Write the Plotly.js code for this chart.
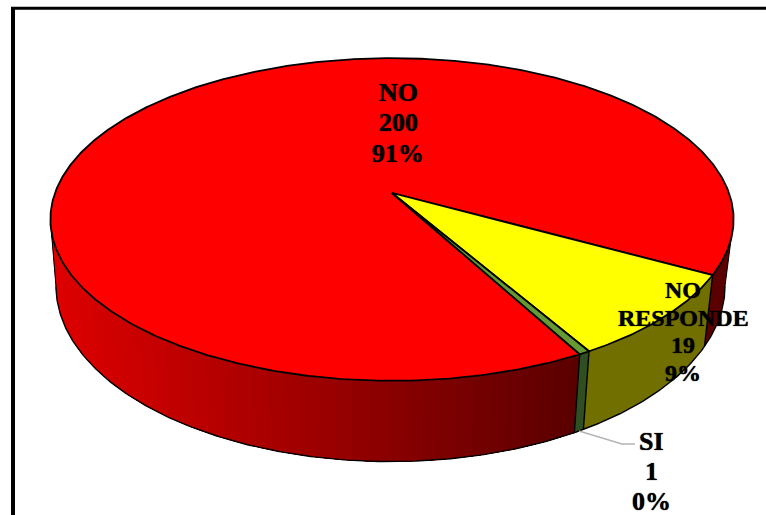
<!DOCTYPE html>
<html>
<head>
<meta charset="utf-8">
<script src="https://cdn.plot.ly/plotly-3.0.1.min.js"></script>
<style>html,body{margin:0;padding:0;background:#fff}#chart{width:766px;height:515px}</style>
</head>
<body>
<div id="chart"></div>
<script>
// Survey answers
const categories = ['NO', 'NO RESPONDE', 'SI'];
const values = [200, 19, 1];
const topColors = ['#ff0000', '#ffff00', '#669933'];
const wallColors = [null, '#706f00', '#2f4f22'];

// Where each slice's text block is centred, first line first
const labelX = [398, 683, 651];
const labelY = [92, 290, 441];
const labelSize = [26, 24, 26];
const labelStep = [30.5, 27.7, 30];
const leaderX = [579, 622, 635];
const leaderY = [431, 444, 444];

// Disc projection: top face and bottom face of the cylinder, seen in perspective
const persp = 0.164;
const topFace = {cx: 392, cy: 193, a: 337, b: 157};
const baseFace = {cx: 390.5, cy: 257, a: 330, b: 171};
const lastEndDeg = 28.8;          // clockwise end of the first slice

const project = (f, deg) => {
  const t = deg * Math.PI / 180, u = Math.cos(t), v = Math.sin(t), w = 1 - persp * v;
  return [f.cx + f.a * u / w, f.cy + f.b * v / w];
};
const arc = (f, from, to, step) => {
  const n = Math.max(1, Math.ceil(Math.abs(to - from) / step)), pts = [];
  for (let i = 0; i <= n; i++) pts.push(project(f, from + (to - from) * i / n));
  return pts;
};
const xs = p => p.map(q => q[0]);
const ys = p => p.map(q => q[1]);

const total = values.reduce((s, v) => s + v, 0);
const spans = values.map(v => v / total * 360);
const starts = [lastEndDeg - spans[0]];
starts.push(lastEndDeg);
starts.push(lastEndDeg + spans[1]);

const traces = [];
const poly = (pts, fill, lineColor, lineWidth) => traces.push({
  type: 'scatter', mode: 'lines', x: xs(pts), y: ys(pts), fill: 'toself', fillcolor: fill,
  line: {color: lineColor, width: lineWidth}, hoverinfo: 'skip', showlegend: false
});
const stroke = (pts, color, width) => traces.push({
  type: 'scatter', mode: 'lines', x: xs(pts), y: ys(pts),
  line: {color: color, width: width}, hoverinfo: 'skip', showlegend: false
});

// Shade of the red wall: bright on the left, darkening towards the front right
const redShade = x => {
  const k = Math.min(1, Math.max(0, (x - 60) / 515));
  return 'rgb(' + Math.round(222 - 132 * k) + ',0,0)';
};

// Visible wall spans from the right silhouette to the left silhouette of the disc
const edgeR = Math.asin(persp) * 180 / Math.PI, edgeL = 180 - edgeR;
const wallStrip = (from, to, color) => {
  const upper = arc(topFace, from, to, 1), lower = arc(baseFace, to, from, 1);
  const pts = upper.concat(lower);
  pts.push(pts[0]);
  poly(pts, color, color, 0);
};

// Red wall: each band runs on under the next darker one, so no seams show between them
const redEnd = starts[1], redStart = starts[2] + spans[2];
wallStrip(edgeR, redEnd, 'rgb(90,0,0)');
for (let d = edgeL; d > redStart; d -= 2.5) {
  const px = project(baseFace, Math.max(redStart, d - 1.25))[0];
  wallStrip(redStart, d, redShade(px));
}
wallStrip(starts[1], starts[1] + spans[1], wallColors[1]);
wallStrip(starts[2], starts[2] + spans[2], wallColors[2]);

// Wall outline and the vertical seams between slices
stroke(arc(baseFace, edgeR, edgeL, 0.5), '#000', 1.4);
[edgeR, edgeL].forEach(d => stroke([project(topFace, d), project(baseFace, d)], '#000', 1));
[starts[1], starts[2], redStart].forEach(d =>
  stroke([project(topFace, d), project(baseFace, d)], '#000', 1.4));

// Top faces of the slices, each closed through the centre of the disc
const centre = [topFace.cx, topFace.cy];
values.forEach((v, i) => {
  const from = i === 0 ? redStart : starts[i];
  const to = i === 0 ? redStart + spans[0] : starts[i] + spans[i];
  const pts = [centre].concat(arc(topFace, from, to, 0.5), [centre]);
  poly(pts, topColors[i], '#000', 1.8);
});

// Leader line for the thin slice
traces.push({type: 'scatter', mode: 'lines', x: leaderX, y: leaderY,
  line: {color: '#b4b4b4', width: 1.5}, hoverinfo: 'skip', showlegend: false});

// Every text block: category, count, share
const annotations = [];
categories.forEach((c, i) => {
  const words = c.split(' ');
  const lines = words.concat([String(values[i]), Math.round(values[i] / total * 100) + '%']);
  lines.forEach((t, j) => annotations.push({
    x: labelX[i], y: labelY[i] + j * labelStep[i], xref: 'x', yref: 'y',
    text: '<b>' + t + '</b>', showarrow: false, xanchor: 'center', yanchor: 'middle',
    font: {family: '"Liberation Serif", serif', size: labelSize[i], color: '#000', shadow: '0 0 1px #000'}
  }));
});

const layout = {
  width: 766, height: 515, margin: {l: 0, r: 0, t: 0, b: 0},
  paper_bgcolor: '#fff', plot_bgcolor: '#fff', showlegend: false,
  xaxis: {range: [0, 766], visible: false, fixedrange: true},
  yaxis: {range: [515, 0], visible: false, fixedrange: true},
  annotations: annotations,
  shapes: [
    {type: 'line', xref: 'x', yref: 'y', x0: 13, x1: 13, y0: 7, y1: 515, line: {color: '#000', width: 4}},
    {type: 'line', xref: 'x', yref: 'y', x0: 11, x1: 766, y0: 8.3, y1: 8.3, line: {color: '#000', width: 3}}
  ]
};
Plotly.newPlot('chart', traces, layout, {displayModeBar: false, staticPlot: true});
</script>
</body>
</html>
